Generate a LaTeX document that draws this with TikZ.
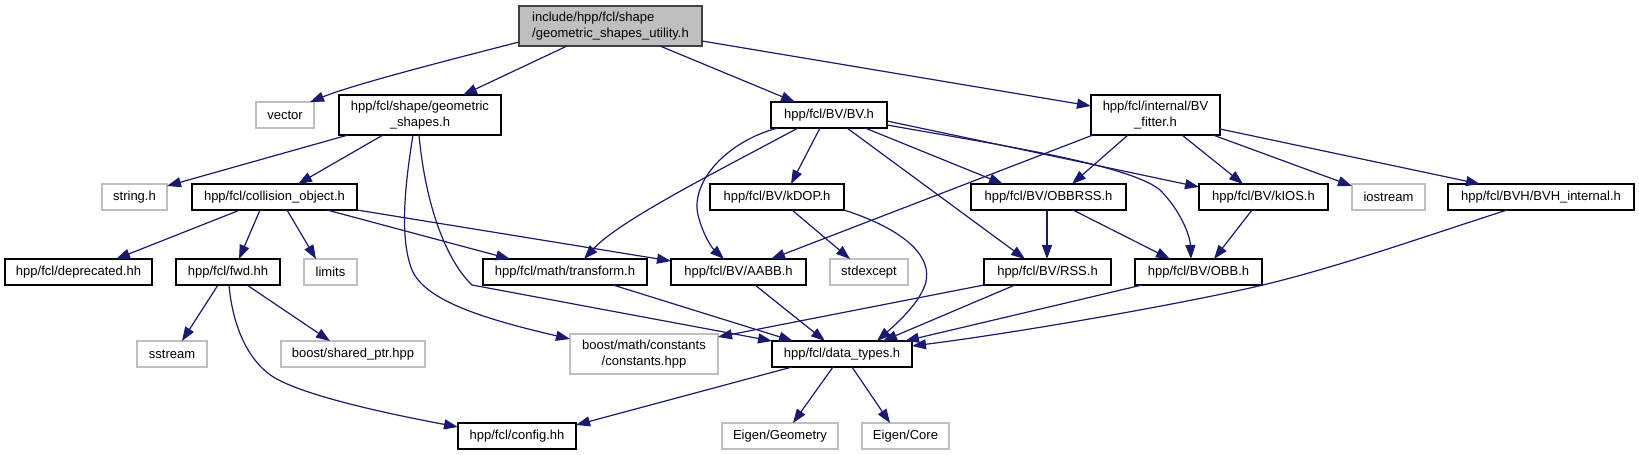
\documentclass[tikz,border=0pt]{standalone}
\usepackage{fontspec}
\setmainfont{Liberation Sans}
\usetikzlibrary{arrows.meta}
\definecolor{edgec}{RGB}{25,25,112}
\definecolor{extc}{RGB}{191,191,191}
\definecolor{rootfill}{RGB}{191,191,191}
\definecolor{rootdraw}{RGB}{64,64,64}
\newcommand\dgfont{\fontsize{13.0}{16}\selectfont}
\begin{document}
\begin{tikzpicture}[x=1pt,y=-1pt,
  box/.style={draw=black, line width=1.2pt, fill=white, minimum height=26pt, inner sep=0pt, outer sep=0pt, anchor=north west, font=\dgfont, text=black},
  ext/.style={box, draw=extc},
  two/.style={minimum height=40pt, align=center},
  e/.style={draw=edgec, line width=1.2pt, -{Triangle[length=14pt,width=10pt]}}
]
\useasboundingbox (0,0) rectangle (1639,455);
% row 0
\node[box, two, align=left, fill=rootfill, draw=rootdraw, minimum width=183pt] (root) at (519,6) {include/hpp/fcl/shape\\/geometric\_shapes\_utility.h};
% row 1
\node[ext, minimum width=58pt] (vector) at (256,102) {vector};
\node[box, two, minimum width=162pt] (geo) at (339,95) {hpp/fcl/shape/geometric\\\_shapes.h};
\node[box, minimum width=116pt] (BV) at (771,102) {hpp/fcl/BV/BV.h};
\node[box, two, minimum width=129pt] (fitter) at (1091,95) {hpp/fcl/internal/BV\\\_fitter.h};
% row 2
\node[ext, minimum width=65pt] (string) at (102,184) {string.h};
\node[box, minimum width=165pt] (colobj) at (192,184) {hpp/fcl/collision\_object.h};
\node[box, minimum width=134pt] (kDOP) at (710,184) {hpp/fcl/BV/kDOP.h};
\node[box, minimum width=155pt] (OBBRSS) at (971,184) {hpp/fcl/BV/OBBRSS.h};
\node[box, minimum width=129pt] (kIOS) at (1199,184) {hpp/fcl/BV/kIOS.h};
\node[ext, minimum width=73pt] (iostream) at (1352,184) {iostream};
\node[box, minimum width=186pt] (BVHint) at (1448,184) {hpp/fcl/BVH/BVH\_internal.h};
% row 3
\node[box, minimum width=147pt] (deprecated) at (5,259) {hpp/fcl/deprecated.hh};
\node[box, minimum width=104pt] (fwd) at (176,259) {hpp/fcl/fwd.hh};
\node[ext, minimum width=53pt] (limits) at (304,259) {limits};
\node[box, minimum width=164pt] (transform) at (483,259) {hpp/fcl/math/transform.h};
\node[box, minimum width=135pt] (AABB) at (671,259) {hpp/fcl/BV/AABB.h};
\node[ext, minimum width=78pt] (stdexcept) at (830,259) {stdexcept};
\node[box, minimum width=127pt] (RSS) at (984,259) {hpp/fcl/BV/RSS.h};
\node[box, minimum width=127pt] (OBB) at (1135,259) {hpp/fcl/BV/OBB.h};
% row 4
\node[ext, minimum width=70pt] (sstream) at (137,341) {sstream};
\node[ext, minimum width=144pt] (sharedptr) at (281,341) {boost/shared\_ptr.hpp};
\node[ext, two, minimum width=148pt] (boostmath) at (570,334) {boost/math/constants\\/constants.hpp};
\node[box, minimum width=140pt] (datatypes) at (772,341) {hpp/fcl/data\_types.h};
% row 5
\node[box, minimum width=118pt] (config) at (458,423) {hpp/fcl/config.hh};
\node[ext, minimum width=116pt] (EigenGeo) at (722,423) {Eigen/Geometry};
\node[ext, minimum width=87pt] (EigenCore) at (862,423) {Eigen/Core};

% edges from root
\draw[e] ([yshift=-36pt]root.north west) .. controls (449,60) and (355,84) .. ([xshift=54pt]vector.north west);
\draw[e] ([xshift=48pt]root.south west) -- ([xshift=124pt]geo.north west);
\draw[e] ([xshift=141pt]root.south west) -- ([xshift=24pt]BV.north west);
\draw[e] ([yshift=-35pt]root.north east) -- ([yshift=-11pt]fitter.north west);
% geo
\draw[e] ([xshift=9pt]geo.south west) -- ([yshift=-2pt]string.north east);
\draw[e] ([xshift=44pt]geo.south west) -- ([xshift=106pt]colobj.north west);
\draw[e] ([xshift=74pt]geo.south west) .. controls (404,190) and (400,240) .. (412,270) .. controls (425,300) and (480,318) .. ([yshift=-5pt]boostmath.north west);
\draw[e] ([xshift=80pt]geo.south west) .. controls (426,210) and (448,262) .. (472,285) -- (datatypes.north west);
% colobj
\draw[e] ([xshift=48pt]colobj.south west) -- ([xshift=111pt]deprecated.north west);
\draw[e] ([xshift=68pt]colobj.south west) -- ([xshift=63pt]fwd.north west);
\draw[e] ([xshift=95pt]colobj.south west) -- ([xshift=12pt]limits.north west);
\draw[e] ([xshift=135pt]colobj.south west) -- ([xshift=27pt]transform.north west);
\draw[e] (colobj.south east) -- ([yshift=-2pt]AABB.north west);
% fwd
\draw[e] ([xshift=42pt]fwd.south west) -- ([xshift=45pt]sstream.north west);
\draw[e] ([xshift=71pt]fwd.south west) -- ([xshift=49pt]sharedptr.north west);
\draw[e] ([xshift=53pt]fwd.south west) .. controls (232,320) and (245,360) .. (275,378) .. controls (310,398) and (400,416) .. ([yshift=-4pt]config.north west);
% BV
\draw[e] ([xshift=49pt]BV.south west) -- ([xshift=81pt]kDOP.north west);
\draw[e] ([xshift=94pt]BV.south west) -- ([xshift=32pt]OBBRSS.north west);
\draw[e] ([yshift=-19pt]BV.north east) -- ([yshift=-3pt]kIOS.north west);
\draw[e] ([yshift=-23pt]BV.north east) .. controls (1000,145) and (1130,165) .. (1160,190) .. controls (1180,210) and (1190,235) .. ([xshift=56pt]OBB.north west);
\draw[e] ([xshift=76pt]BV.south west) -- ([xshift=41pt]RSS.north west);
\draw[e] ([xshift=7pt]BV.south west) .. controls (730,140) and (690,180) .. (698,215) .. controls (703,235) and (712,248) .. ([xshift=53pt]AABB.north west);
\draw[e] ([xshift=27pt]BV.south west) .. controls (720,170) and (620,220) .. ([xshift=101pt]transform.north west);
% fitter
\draw[e] ([xshift=2pt]fitter.south west) -- ([xshift=100pt]AABB.north west);
\draw[e] ([xshift=37pt]fitter.south west) -- ([xshift=101pt]OBBRSS.north west);
\draw[e] ([xshift=91pt]fitter.south west) -- ([xshift=44pt]kIOS.north west);
\draw[e] ([xshift=122pt]fitter.south west) -- ([yshift=-2pt]iostream.north west);
\draw[e] ([yshift=-34pt]fitter.north east) -- ([xshift=32pt]BVHint.north west);
% kDOP
\draw[e] ([xshift=82pt]kDOP.south west) -- ([xshift=20pt]stdexcept.north west);
\draw[e] (kDOP.south east) .. controls (900,228) and (935,255) .. (925,285) .. controls (918,305) and (895,325) .. ([xshift=105pt]datatypes.north west);
% OBBRSS, kIOS
\draw[e] ([xshift=76pt]OBBRSS.south west) -- ([xshift=63pt]RSS.north west);
\draw[e] ([xshift=102pt]OBBRSS.south west) -- ([xshift=35pt]OBB.north west);
\draw[e] ([xshift=53pt]kIOS.south west) -- ([xshift=79pt]OBB.north west);
% row 3 to data types
\draw[e] ([xshift=130pt]transform.south west) -- ([xshift=21pt]datatypes.north west);
\draw[e] ([xshift=84pt]AABB.south west) -- ([xshift=53pt]datatypes.north west);
\draw[e] (RSS.south west) -- ([yshift=-3pt]boostmath.north east);
\draw[e] ([xshift=31pt]RSS.south west) -- ([xshift=111pt]datatypes.north west);
\draw[e] ([xshift=7pt]OBB.south west) -- ([xshift=133pt]datatypes.north west);
\draw[e] ([xshift=59pt]BVHint.south west) .. controls (1420,238) and (1330,270) .. (1250,288) .. controls (1150,310) and (1000,335) .. ([yshift=-5pt]datatypes.north east);
% data types
\draw[e] ([xshift=20pt]datatypes.south west) -- ([yshift=-2pt]config.north east);
\draw[e] ([xshift=61pt]datatypes.south west) -- ([xshift=71pt]EigenGeo.north west);
\draw[e] ([xshift=80pt]datatypes.south west) -- ([xshift=28pt]EigenCore.north west);
\end{tikzpicture}
\end{document}
